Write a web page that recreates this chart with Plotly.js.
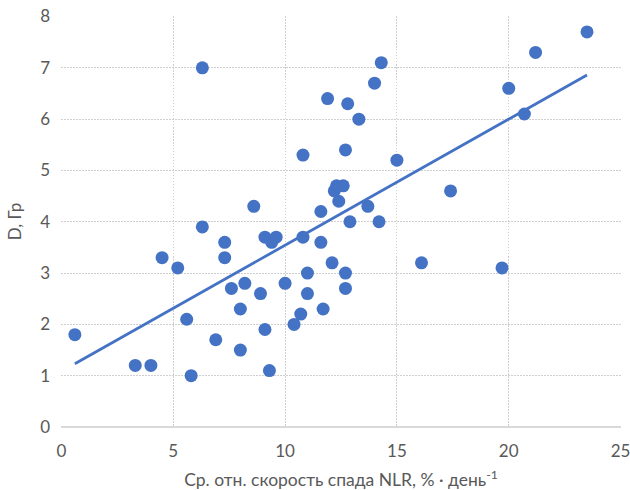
<!DOCTYPE html>
<html>
<head>
<meta charset="utf-8">
<script src="https://cdn.plot.ly/plotly-3.0.1.min.js"></script>
<style>html,body{margin:0;padding:0;background:#fff;}#chart{width:630px;height:490px;}</style>
</head>
<body>
<div id="chart"></div>
<script>
const xValues = [0.6, 3.3, 4.0, 4.5, 5.2, 5.6, 5.8, 6.3, 6.3, 6.9, 7.3, 7.3, 7.6, 8.0, 8.2, 8.0, 8.6, 8.9, 9.1, 9.1, 9.4, 9.6, 9.3, 10.0, 10.4, 10.7, 10.8, 10.8, 11.0, 11.0, 11.6, 11.6, 11.7, 11.9, 12.1, 12.2, 12.3, 12.4, 12.6, 12.7, 12.7, 12.7, 12.8, 12.9, 13.3, 13.7, 14.0, 14.2, 14.3, 15.0, 16.1, 17.4, 19.7, 20.0, 20.7, 21.2, 23.5];
const yValues = [1.8, 1.2, 1.2, 3.3, 3.1, 2.1, 1.0, 3.9, 7.0, 1.7, 3.3, 3.6, 2.7, 2.3, 2.8, 1.5, 4.3, 2.6, 3.7, 1.9, 3.6, 3.7, 1.1, 2.8, 2.0, 2.2, 5.3, 3.7, 3.0, 2.6, 4.2, 3.6, 2.3, 6.4, 3.2, 4.6, 4.7, 4.4, 4.7, 5.4, 3.0, 2.7, 6.3, 4.0, 6.0, 4.3, 6.7, 4.0, 7.1, 5.2, 3.2, 4.6, 3.1, 6.6, 6.1, 7.3, 7.7];
const xTicks = [0, 5, 10, 15, 20, 25];
const yTicks = [0, 1, 2, 3, 4, 5, 6, 7, 8];

// least-squares trendline computed from the data
const n = xValues.length;
const mx = xValues.reduce((a, b) => a + b, 0) / n;
const my = yValues.reduce((a, b) => a + b, 0) / n;
let sxy = 0, sxx = 0;
for (let i = 0; i < n; i++) { sxy += (xValues[i] - mx) * (yValues[i] - my); sxx += (xValues[i] - mx) ** 2; }
const slope = sxy / sxx;
const intercept = my - slope * mx;
const xMin = Math.min(...xValues), xMax = Math.max(...xValues);
const trendX = [xMin, xMax];
const trendY = trendX.map(x => intercept + slope * x);

const blue = '#4472C4';
const gray = '#595959';
const gridColor = '#cfcfcf';
const gridDash = '1.5px,1.5px';
const font = 'Lato, Open Sans, sans-serif';

Plotly.newPlot('chart', [
  { x: xValues, y: yValues, type: 'scatter', mode: 'markers',
    marker: { color: blue, size: 13 }, hoverinfo: 'x+y', showlegend: false },
  { x: trendX, y: trendY, type: 'scatter', mode: 'lines',
    line: { color: blue, width: 2.8 }, hoverinfo: 'skip', showlegend: false }
], {
  width: 630, height: 490,
  margin: { l: 61, r: 9, t: 16, b: 63 },
  paper_bgcolor: '#fff', plot_bgcolor: '#fff',
  font: { family: font, color: gray, size: 16 },
  xaxis: {
    range: [-0.02, 25.02], tickvals: xTicks, ticktext: xTicks.map(String),
    showgrid: true, gridcolor: gridColor, griddash: gridDash, gridwidth: 1,
    zeroline: false, showline: false, ticks: '', ticklabelstandoff: 12,
    ticklabeloverflow: 'allow',
    tickfont: { family: font, size: 17, color: gray },
    title: { text: 'Ср. отн. скорость спада NLR, % · день<sup>-1</sup>', font: { family: font, size: 17.5, color: gray }, standoff: 14 }
  },
  yaxis: {
    range: [0, 8.01], tickvals: yTicks, ticktext: yTicks.map(String),
    showgrid: true, gridcolor: gridColor, griddash: gridDash, gridwidth: 1,
    zeroline: true, zerolinecolor: '#d9d9d9', zerolinewidth: 1.3,
    showline: false, ticks: '', ticklabelstandoff: 10,
    ticklabeloverflow: 'allow',
    tickfont: { family: font, size: 17, color: gray },
    title: { text: 'D, Гр', font: { family: font, size: 17, color: gray }, standoff: 14 }
  }
}, { displayModeBar: false, staticPlot: true });
</script>
</body>
</html>
